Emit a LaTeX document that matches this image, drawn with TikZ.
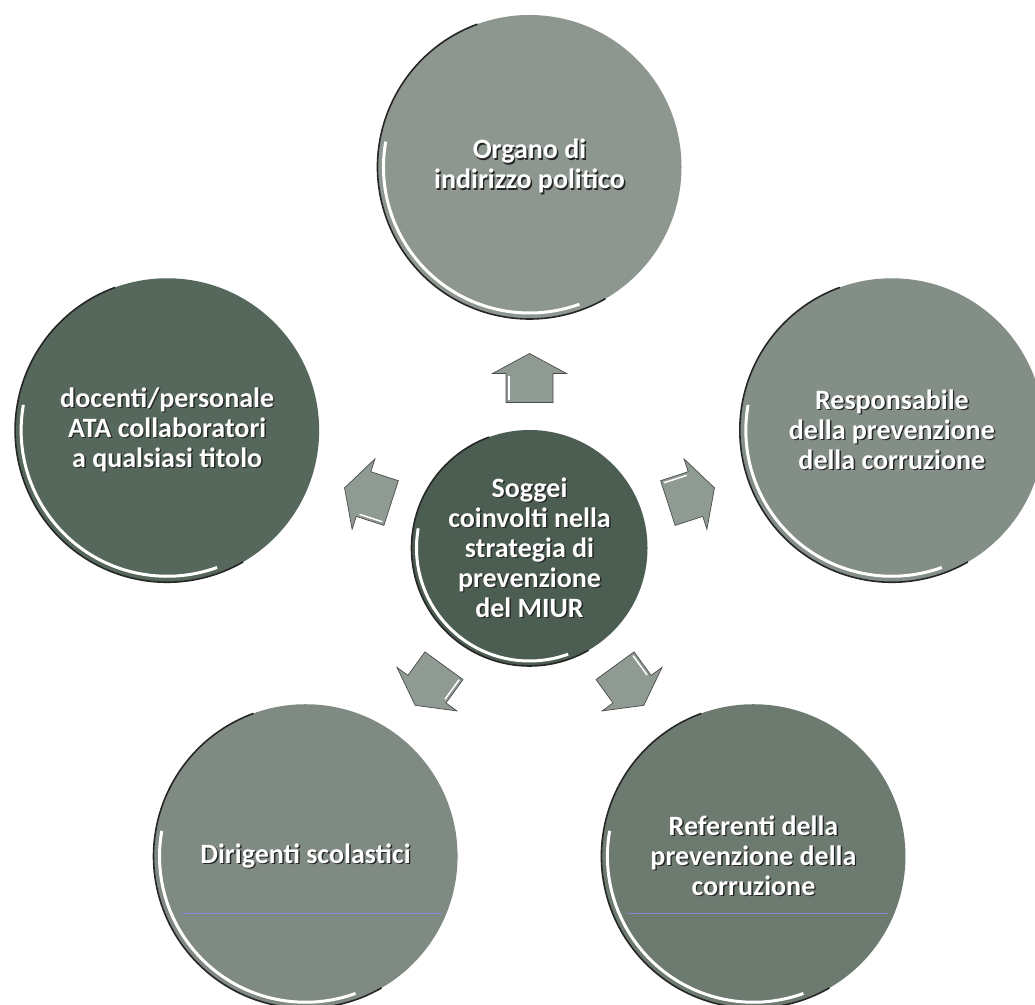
\documentclass[tikz,border=0pt]{standalone}
\usepackage{fontspec}
\setmainfont{Carlito}
\usetikzlibrary{calc}
\definecolor{ctop}{HTML}{8D978F}
\definecolor{cright}{HTML}{838E87}
\definecolor{cbr}{HTML}{6C7A70}
\definecolor{cbl}{HTML}{7F8A83}
\definecolor{cleft}{HTML}{56685C}
\definecolor{ccenter}{HTML}{4C5E52}
\definecolor{carrow}{HTML}{8F9A92}
\tikzset{
  bubble/.style={circle, minimum size=304pt, inner sep=0pt, outer sep=0pt,
    text=white, align=center, font=\fontsize{28}{30}\selectfont\bfseries},
  hub/.style={bubble, minimum size=236pt},
  rimdark/.style={black!85, line width=1.6pt},
  rimlight/.style={white, line width=3pt},
  blockarrow/.style={fill=carrow, draw=black!70, line width=0.7pt},
  arrowlight/.style={white, line width=1.5pt},
  scanline/.style={blue!45!white, line width=0.6pt, opacity=0.7},
}
\newcommand\sh[1]{\makebox[0pt][l]{\hspace{1.4pt}\raisebox{-1.4pt}{\textcolor{black!85}{#1}}}#1}
\newcommand\bubblerim[3]{%
  \draw[rimdark] ($(#1.center)+(110:#2pt)$) arc[start angle=110, end angle=300, radius=#2pt];
  \draw[rimlight] ($(#1.center)+(170:#3pt)$) arc[start angle=170, end angle=290, radius=#3pt];}
\newcommand\blockarr[2]{%
  \begin{scope}[shift={(#1)}, rotate=#2]
    \filldraw[blockarrow] (-24.5pt,-23.5pt) -- (4.5pt,-23.5pt) -- (4.5pt,-37pt) -- (24.5pt,0pt)
      -- (4.5pt,37pt) -- (4.5pt,23.5pt) -- (-24.5pt,23.5pt) -- cycle;
    \draw[arrowlight] (-22pt,20.5pt) -- (2pt,20.5pt);
  \end{scope}}
\begin{document}
\begin{tikzpicture}[x=1pt,y=1pt]
\useasboundingbox (0,0) rectangle (1035,1004);
\clip (0,0) rectangle (1035,1004);
\fill[white] (0,0) rectangle (1035,1004);

\node[hub, fill=ccenter] (c) at (529.5,456)
  {\sh{Soggei}\\\sh{coinvolti nella}\\\sh{strategia di}\\\sh{prevenzione}\\\sh{del MIUR}};

\node[bubble, fill=ctop] (top) at ($(c)+(90:381pt)$)
  {\sh{Organo di}\\\sh{indirizzo politico}};
\node[bubble, fill=cright] (right) at ($(c)+(18:381pt)$)
  {\sh{Responsabile}\\\sh{della prevenzione}\\\sh{della corruzione}};
\node[bubble, fill=cbr] (br) at ($(c)+(-54:381pt)$)
  {\sh{Referenti della}\\\sh{prevenzione della}\\\sh{corruzione}};
\node[bubble, fill=cbl] (bl) at ($(c)+(-126:381pt)$)
  {\sh{Dirigenti scolastici}};
\node[bubble, fill=cleft] (left) at ($(c)+(162:381pt)$)
  {\sh{docenti/personale}\\\sh{ATA collaboratori}\\\sh{a qualsiasi titolo}};

\bubblerim{c}{118}{113}
\bubblerim{top}{152}{146}
\bubblerim{right}{152}{146}
\bubblerim{br}{152}{146}
\bubblerim{bl}{152}{146}
\bubblerim{left}{152}{146}

\draw[scanline] (182,91) -- (442,91);
\draw[scanline] (627,91) -- (888,91);

\coordinate (a1) at ($(c)!170pt!(top)$);
\coordinate (a2) at ($(c)!170pt!(right)$);
\coordinate (a3) at ($(c)!170pt!(br)$);
\coordinate (a4) at ($(c)!170pt!(bl)$);
\coordinate (a5) at ($(c)!170pt!(left)$);
\blockarr{a1}{90}
\blockarr{a2}{18}
\blockarr{a3}{-54}
\blockarr{a4}{-126}
\blockarr{a5}{162}
\end{tikzpicture}
\end{document}
